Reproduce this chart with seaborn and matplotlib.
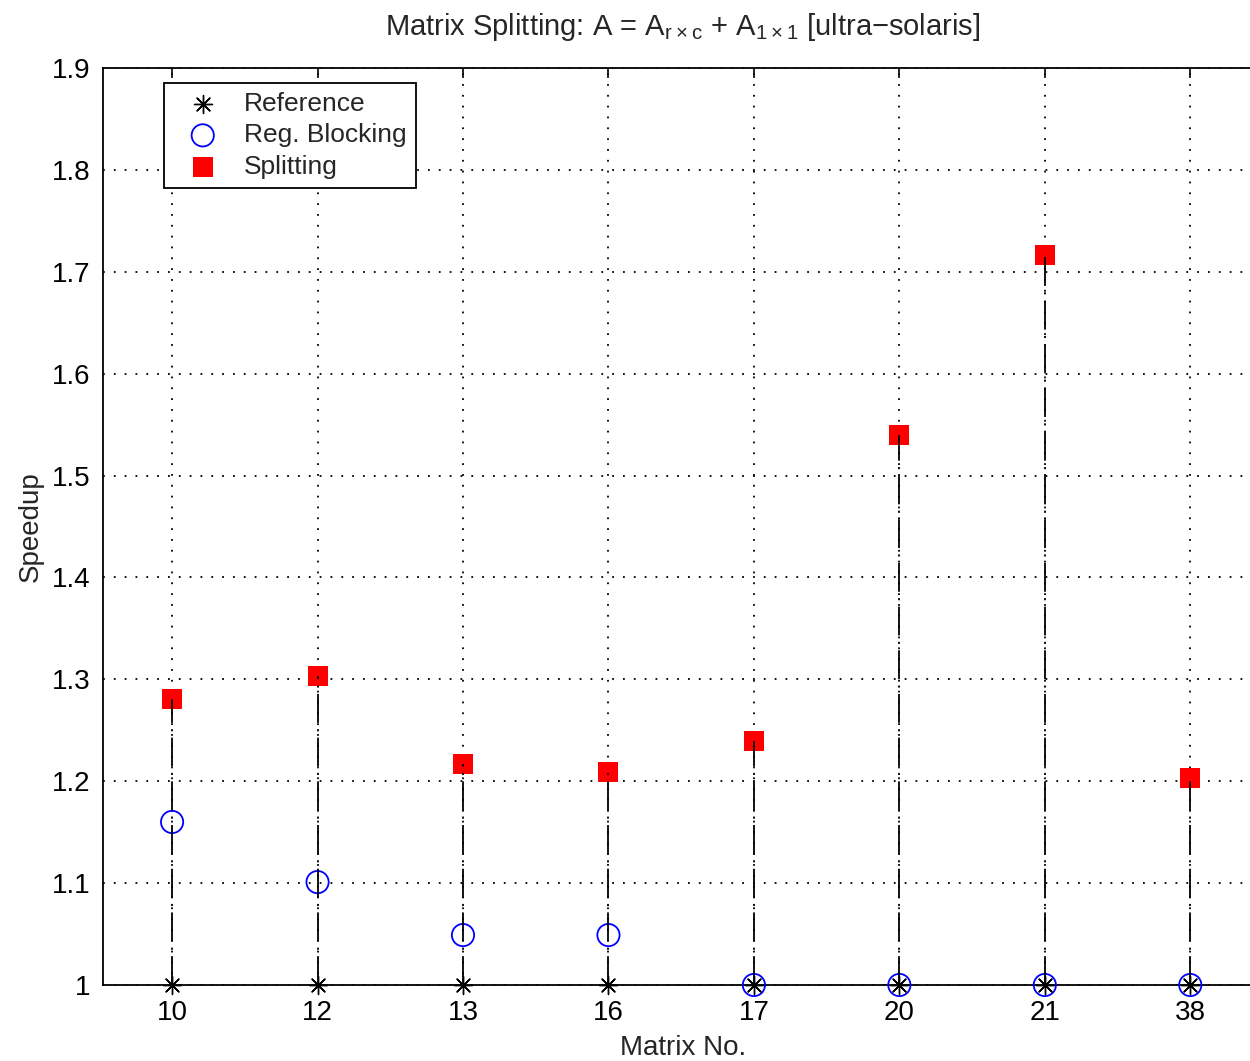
import matplotlib
matplotlib.use("Agg")
import matplotlib.pyplot as plt
import seaborn as sns
import pandas as pd
import numpy as np

matrices = ["10", "12", "13", "16", "17", "20", "21", "38"]
reference = [1.0, 1.0, 1.0, 1.0, 1.0, 1.0, 1.0, 1.0]
reg_blocking = [1.160, 1.101, 1.049, 1.049, 1.0, 1.0, 1.0, 1.0]
splitting = [1.281, 1.303, 1.217, 1.209, 1.239, 1.540, 1.716, 1.203]
yticks = [1.0, 1.1, 1.2, 1.3, 1.4, 1.5, 1.6, 1.7, 1.8, 1.9]
ytick_labels = ["1", "1.1", "1.2", "1.3", "1.4", "1.5", "1.6", "1.7", "1.8", "1.9"]

sns.set_style("white")
plt.rcParams['font.family'] = ['Liberation Sans', 'DejaVu Sans']
plt.rcParams['mathtext.default'] = 'regular'

pos = np.arange(1, len(matrices) + 1)
df = pd.DataFrame({"pos": pos, "Reference": reference,
                   "Reg. Blocking": reg_blocking, "Splitting": splitting})

W, H = 1250, 1061
fig = plt.figure(figsize=(W / 100, H / 100), dpi=100)
left, right, top, bottom = 103, 1263, 68, 985
ax = fig.add_axes([left / W, 1 - bottom / H, (right - left) / W, (bottom - top) / H])

sns.scatterplot(data=df, x="pos", y="Splitting", marker="s", s=14**2, color="#ff0000",
                edgecolor="#ff0000", linewidth=0, ax=ax, label="Splitting", zorder=3,
                clip_on=False)
sns.scatterplot(data=df, x="pos", y="Reg. Blocking", marker="o", s=16**2, facecolor="none",
                edgecolor="#0000ff", linewidth=1.3, ax=ax, label="Reg. Blocking", zorder=3,
                clip_on=False)
sns.scatterplot(data=df, x="pos", y="Reference", marker=(8, 2, 0), s=13**2, color="black",
                edgecolor="black", linewidth=1.0, ax=ax, label="Reference", zorder=5,
                clip_on=False)

ax.vlines(df["pos"], df["Reference"], df["Splitting"], colors="black", linewidth=1.3,
          linestyles=[(0, (16, 3.5, 1.2, 3.5))], zorder=4)

ax.set_xlim(0.525, 8.5)
ax.set_ylim(1.0, 1.9)
ax.set_xticks(pos)
ax.set_xticklabels(matrices)
ax.set_yticks(yticks)
ax.set_yticklabels(ytick_labels)
ax.grid(True, color="black", linestyle=(0, (1, 5)), linewidth=1.3)
ax.tick_params(direction="in", length=7, width=1.2, top=True, right=True,
               labelsize=20, colors="black")
ax.tick_params(axis="x", pad=11)
ax.tick_params(axis="y", pad=9)
for s in ax.spines.values():
    s.set_visible(True)
    s.set_color("black")
    s.set_linewidth(1.3)

ax.set_xlabel("Matrix No.", fontsize=20, labelpad=6)
ax.set_ylabel("Speedup", fontsize=20, labelpad=6)
ax.set_title("Matrix Splitting: A = A$_{r\\times c}$ + A$_{1\\times 1}$ [ultra\u2212solaris]",
             fontsize=21, pad=24)

handles, labels = ax.get_legend_handles_labels()
order = [labels.index(l) for l in ["Reference", "Reg. Blocking", "Splitting"]]
leg = ax.legend([handles[i] for i in order], [labels[i] for i in order],
                loc="upper left", bbox_to_anchor=(0.053, 0.984), fontsize=19,
                frameon=True, fancybox=False, edgecolor="black", framealpha=1,
                borderpad=0.35, labelspacing=0.28, handletextpad=0.45, handlelength=2.2,
                borderaxespad=0)
leg.get_frame().set_linewidth(1.3)

fig.savefig("out.png", dpi=100)
